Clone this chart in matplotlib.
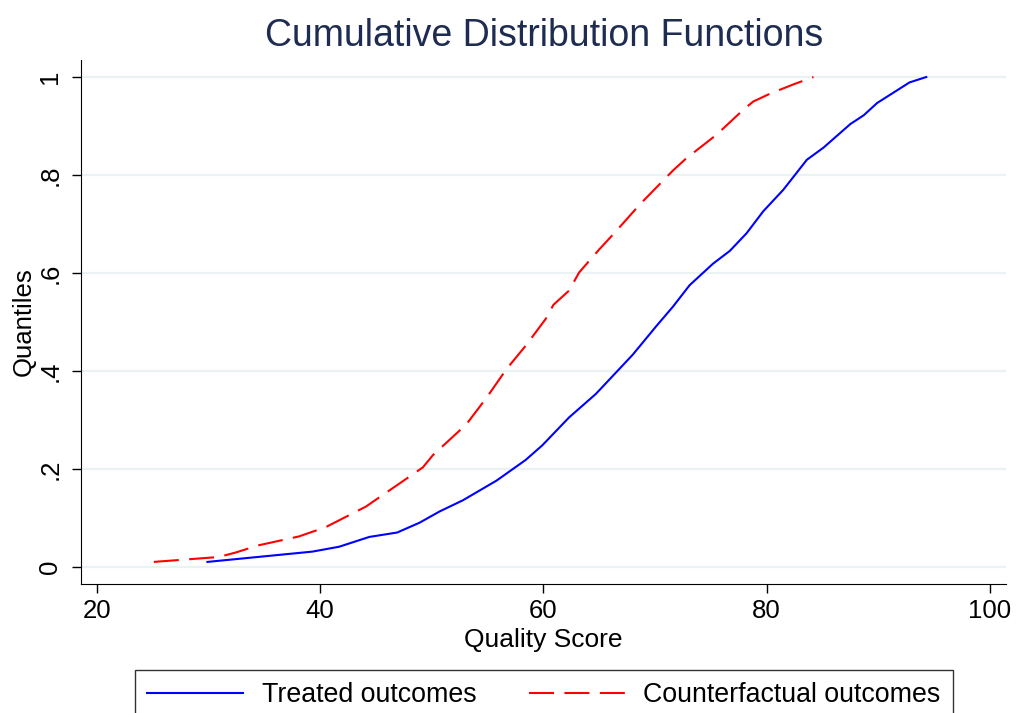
import numpy as np
import matplotlib
matplotlib.use("Agg")
import matplotlib.pyplot as plt

plt.rcParams['font.family'] = ['Liberation Sans', 'DejaVu Sans']

# treated outcomes (blue, solid)
treated_x = [29.9, 39.3, 41.7, 44.4, 46.9, 48.9, 50.7, 52.8, 55.8, 58.4, 59.9,
             62.3, 64.7, 68.0, 70.1, 71.6, 73.1, 75.2, 76.7, 78.2, 79.7, 81.5,
             83.6, 85.1, 87.5, 88.7, 89.9, 92.8, 94.3]
treated_q = [0.010, 0.031, 0.041, 0.061, 0.070, 0.090, 0.113, 0.136, 0.176, 0.218, 0.248,
             0.305, 0.353, 0.433, 0.491, 0.531, 0.575, 0.619, 0.645, 0.681, 0.726, 0.770,
             0.831, 0.856, 0.904, 0.922, 0.947, 0.989, 1.000]

# counterfactual outcomes (red, dashed)
counter_x = [25.1, 30.9, 32.4, 34.5, 38.1, 40.5, 44.1, 47.1, 49.2, 50.1, 53.1, 54.9,
             56.7, 58.4, 60.2, 60.9, 62.3, 63.2, 65.0, 66.5, 68.6, 71.6, 72.8, 75.5,
             77.9, 78.8, 80.3, 82.4, 84.2]
counter_q = [0.010, 0.020, 0.029, 0.044, 0.062, 0.081, 0.123, 0.170, 0.203, 0.228, 0.291, 0.345,
             0.404, 0.451, 0.506, 0.535, 0.564, 0.601, 0.648, 0.685, 0.739, 0.809, 0.834, 0.882,
             0.933, 0.950, 0.966, 0.985, 1.000]

x_ticks = [20, 40, 60, 80, 100]
y_ticks = [0, 0.2, 0.4, 0.6, 0.8, 1.0]
y_ticklabels = ["0", ".2", ".4", ".6", ".8", "1"]

fig = plt.figure(figsize=(10.16, 7.13), dpi=100)
ax = fig.add_axes([0.0797, 0.181, 0.9103, 0.735])

ax.plot(treated_x, treated_q, color="#0000ff", lw=1.5, label="Treated outcomes")
ax.plot(counter_x, counter_q, color="#ff0000", lw=1.5, linestyle=(0, (12, 5)),
        label="Counterfactual outcomes")

ax.set_xlim(18.57, 101.43)
ax.set_ylim(-0.035, 1.035)
ax.set_xticks(x_ticks)
ax.set_yticks(y_ticks)
ax.set_yticklabels(y_ticklabels, rotation=90, va="center")
ax.grid(axis="y", color="#eaf2f3", lw=1.6)
ax.set_axisbelow(True)
for s in ["top", "right"]:
    ax.spines[s].set_visible(False)
ax.tick_params(axis="both", labelsize=18.5, length=6.5, width=1, direction="out")
ax.tick_params(axis="y", pad=7)
ax.tick_params(axis="x", pad=4)

ax.set_xlabel("Quality Score", fontsize=19, labelpad=4)
ax.set_ylabel("Quantiles", fontsize=18.5, labelpad=2)
fig.text(0.536, 0.950, "Cumulative Distribution Functions", fontsize=27,
         color="#1e2c52", ha="center", va="center")

leg = fig.legend(loc="upper center", bbox_to_anchor=(0.5352, 0.079), ncol=2,
                 fontsize=19.3, frameon=True, fancybox=False, edgecolor="black",
                 handlelength=3.6, handletextpad=0.68, columnspacing=1.95,
                 borderpad=0.45)
leg.get_frame().set_linewidth(1.0)

fig.savefig("out.png", dpi=100)
